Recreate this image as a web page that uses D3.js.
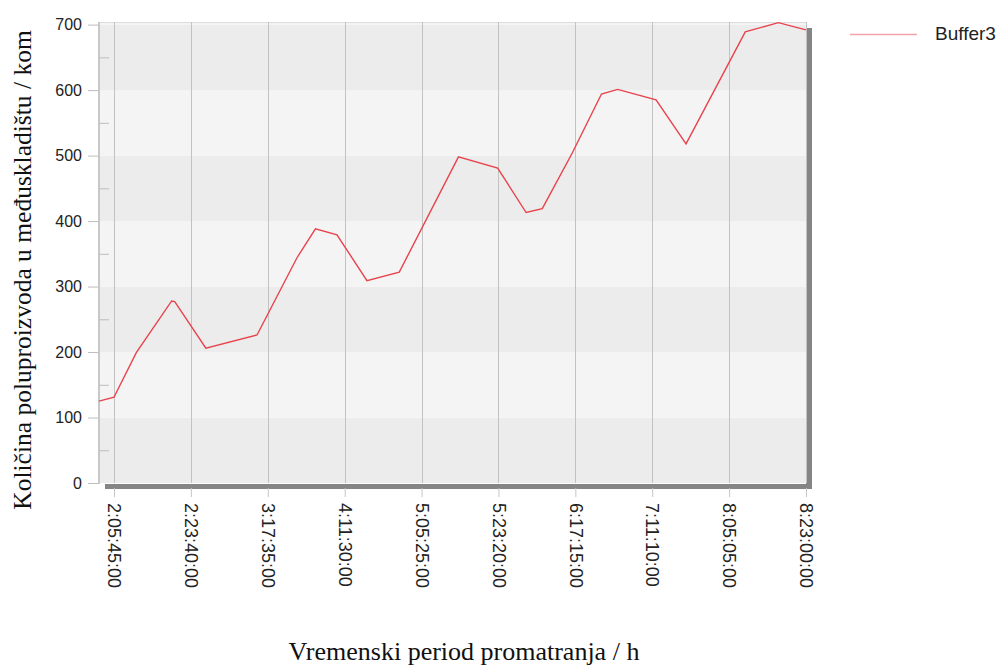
<!DOCTYPE html>
<html>
<head>
<meta charset="utf-8">
<script src="https://cdn.jsdelivr.net/npm/d3@7"></script>
<style>
  body { margin: 0; background: #fff; }
  svg { display: block; }
</style>
</head>
<body>
<div id="chart"></div>
<script>
// tick labels on the time axis (equally spaced)
var timeLabels = ["2:05:45:00", "2:23:40:00", "3:17:35:00", "4:11:30:00", "5:05:25:00",
                  "5:23:20:00", "6:17:15:00", "7:11:10:00", "8:05:05:00", "8:23:00:00"];
// position of each sample, in tick units
var bufferPos = [-0.195, 0, 0.29, 0.75, 0.79, 1.195, 1.86, 2.38, 2.62, 2.9, 3.29, 3.71,
                 4.48, 4.99, 5.36, 5.57, 5.96, 6.34, 6.55, 7.05, 7.44, 8.21, 8.64, 9.0];
var bufferVal = [125, 131, 199, 278, 277, 206, 226, 344, 388, 379, 309, 322,
                 498, 481, 413, 419, 504, 594, 601, 585, 518, 689, 703, 692];
var yTicks = [0, 100, 200, 300, 400, 500, 600, 700];
var yMinor = [50, 150, 250, 350, 450, 550, 650];

function drawChart() {
    var width = 1002, height = 667;
    var plotLeft = 99, plotRight = 806, plotTop = 22, plotBottom = 483;

    var svg = d3.select("#chart").append("svg")
        .attr("width", width)
        .attr("height", height);

    var x = d3.scaleLinear().domain([-0.195, 9]).range([plotLeft, plotRight]);
    var y = d3.scaleLinear().domain([0, 704]).range([plotBottom, plotTop]);

    // shadow
    svg.append("rect")
        .attr("x", 105).attr("y", 484)
        .attr("width", 812 - 105).attr("height", 5)
        .attr("fill", "#858585");
    svg.append("rect")
        .attr("x", plotRight).attr("y", 28)
        .attr("width", 6).attr("height", 489 - 28)
        .attr("fill", "#858585");

    // alternating bands
    svg.selectAll(".band")
        .data(yTicks)
        .enter()
        .append("rect")
        .attr("class", "band")
        .attr("x", plotLeft)
        .attr("width", plotRight - plotLeft)
        .attr("y", function(d) { return y(Math.min(d + 100, 704)); })
        .attr("height", function(d) { return y(d) - y(Math.min(d + 100, 704)); })
        .attr("fill", function(d, i) { return i % 2 == 0 ? "#ececec" : "#f4f4f4"; });

    // top border
    svg.append("line")
        .attr("x1", plotLeft).attr("x2", plotRight)
        .attr("y1", plotTop + 0.5).attr("y2", plotTop + 0.5)
        .attr("stroke", "#dcdcdc");

    // vertical gridlines
    svg.selectAll(".vgrid")
        .data(d3.range(timeLabels.length))
        .enter()
        .append("line")
        .attr("class", "vgrid")
        .attr("x1", function(d) { return Math.round(x(d)) + 0.5; })
        .attr("x2", function(d) { return Math.round(x(d)) + 0.5; })
        .attr("y1", plotTop)
        .attr("y2", plotBottom)
        .attr("stroke", "#c2c2c2");

    // left border
    svg.append("line")
        .attr("x1", plotLeft).attr("x2", plotLeft)
        .attr("y1", plotTop).attr("y2", plotBottom + 1)
        .attr("stroke", "#c8c8c8")
        .attr("stroke-width", 2);

    // y axis
    var yAxis = svg.append("g")
        .attr("transform", "translate(" + (plotLeft - 1) + ",0)")
        .call(d3.axisLeft(y).tickValues(yTicks).tickSize(10).tickPadding(6));
    yAxis.select(".domain").remove();
    yAxis.selectAll("line").attr("stroke", "#bdbdbd");
    yAxis.selectAll("text")
        .attr("font-family", "'Liberation Sans', Arial, sans-serif")
        .attr("font-size", 16)
        .attr("fill", "#222");

    var yMinorAxis = svg.append("g")
        .attr("transform", "translate(" + plotLeft + ",0)")
        .call(d3.axisRight(y).tickValues(yMinor).tickSize(10).tickFormat(""));
    yMinorAxis.select(".domain").remove();
    yMinorAxis.selectAll("line").attr("stroke", "#bdbdbd");

    // x axis
    var xAxis = svg.append("g")
        .attr("transform", "translate(0,488)")
        .call(d3.axisBottom(x)
            .tickValues(d3.range(timeLabels.length))
            .tickFormat(function(i) { return timeLabels[i]; })
            .tickSize(9));
    xAxis.select(".domain").remove();
    xAxis.selectAll("line").attr("stroke", "#c6c6c6");
    xAxis.selectAll("text")
        .attr("font-family", "'Liberation Sans', Arial, sans-serif")
        .attr("font-size", 18)
        .attr("fill", "#222")
        .attr("text-anchor", "start")
        .attr("transform", "rotate(90)")
        .attr("x", 15)
        .attr("y", 0)
        .attr("dy", "0.35em");

    // data line
    var points = bufferPos.map(function(p, i) { return [p, bufferVal[i]]; });
    var line = d3.line()
        .x(function(d) { return x(d[0]); })
        .y(function(d) { return y(d[1]); });

    svg.append("path")
        .datum(points)
        .attr("d", line)
        .attr("fill", "none")
        .attr("stroke", "#e8434c")
        .attr("stroke-width", 1.4);

    // legend
    svg.append("line")
        .attr("x1", 850).attr("x2", 917)
        .attr("y1", 34.5).attr("y2", 34.5)
        .attr("stroke", "#f2a2ab")
        .attr("stroke-width", 1.5);
    svg.append("text")
        .attr("x", 935).attr("y", 40)
        .attr("font-family", "'Liberation Sans', Arial, sans-serif")
        .attr("font-size", 19)
        .attr("fill", "#222")
        .text("Buffer3");

    // axis titles
    svg.append("text")
        .attr("x", 464).attr("y", 660)
        .attr("text-anchor", "middle")
        .attr("font-family", "'Liberation Serif', 'Times New Roman', serif")
        .attr("font-size", 26)
        .attr("fill", "#111")
        .text("Vremenski period promatranja  / h");

    svg.append("text")
        .attr("transform", "translate(31,270) rotate(-90)")
        .attr("text-anchor", "middle")
        .attr("font-family", "'Liberation Serif', 'Times New Roman', serif")
        .attr("font-size", 25.5)
        .attr("fill", "#111")
        .text("Količina poluproizvoda u međuskladištu / kom");
}

drawChart();
</script>
</body>
</html>
